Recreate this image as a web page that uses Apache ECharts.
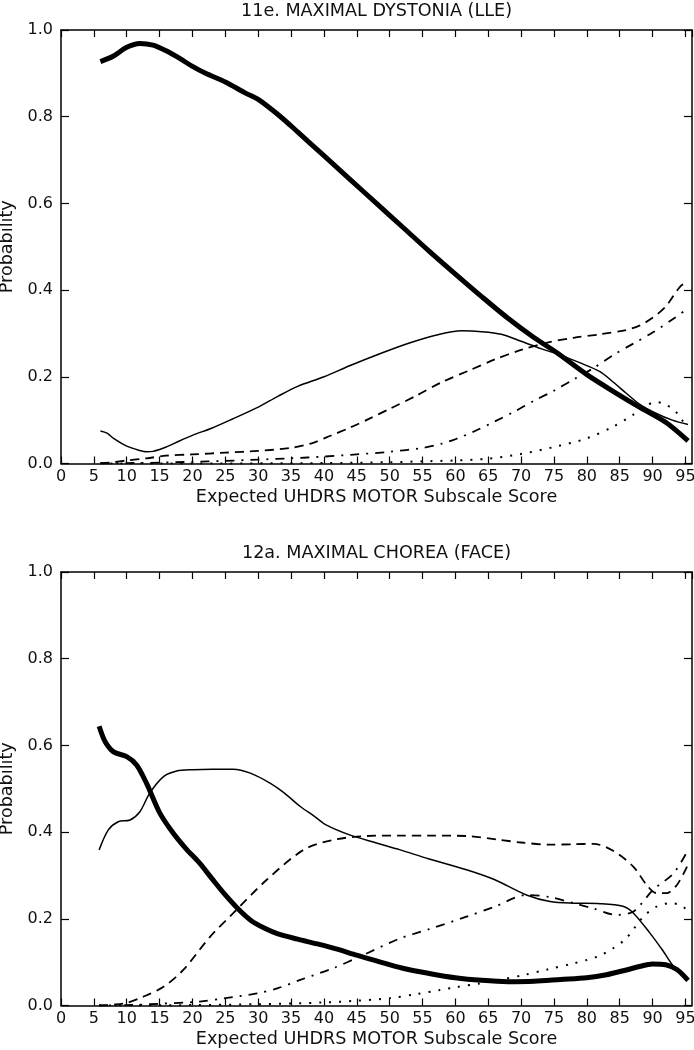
<!DOCTYPE html>
<html>
<head>
<meta charset="utf-8">
<script src="https://cdn.jsdelivr.net/npm/echarts@6/dist/echarts.min.js"></script>
<style>
html,body{margin:0;padding:0;background:#fff;}
#chart{width:694px;height:1050px;}
</style>
</head>
<body>
<div id="chart"></div>
<script>
// ---------- Titles / labels ----------
const titles = ['11e. MAXIMAL DYSTONIA (LLE)', '12a. MAXIMAL CHOREA (FACE)'];
const xAxisTitle = 'Expected UHDRS MOTOR Subscale Score';
const yAxisTitle = 'Probability';
const yTickLabels = ['0.0', '0.2', '0.4', '0.6', '0.8', '1.0'];
const xTickValues = [0,5,10,15,20,25,30,35,40,45,50,55,60,65,70,75,80,85,90,95];

// ---------- Panel 1: 11e. MAXIMAL DYSTONIA (LLE) ----------
const dyst0X = [6,8,10,12,14,16,18,20,22,25,28,30,33,36,40,44,48,52,56,60,64,68,72,75.4,80,84.5,88,92,95.4];
const dyst0Y = [0.927,0.94,0.96,0.969,0.965,0.952,0.935,0.916,0.90,0.88,0.855,0.84,0.805,0.765,0.71,0.655,0.60,0.545,0.49,0.437,0.385,0.335,0.29,0.256,0.205,0.162,0.13,0.095,0.052];

const dyst1X = [6,7,8,10,12,13,14,16,18,20,23,26,30,33,36,40,44,49,53,57,61,64,67,70,73,76,79,82,84,86,88,90.5,93,95.4];
const dyst1Y = [0.075,0.07,0.058,0.04,0.03,0.027,0.028,0.038,0.052,0.065,0.082,0.102,0.13,0.155,0.178,0.20,0.226,0.256,0.278,0.296,0.306,0.304,0.298,0.282,0.265,0.25,0.232,0.212,0.188,0.162,0.137,0.116,0.10,0.09];

const dyst2X = [6,8,10,13,16,20,25,30,35,38,41,44,47,50,54,58,62,66,70,74,78,82,86,88,90,92,94.2,95.4];
const dyst2Y = [0.001,0.003,0.007,0.012,0.018,0.021,0.025,0.029,0.036,0.046,0.064,0.083,0.104,0.126,0.156,0.188,0.214,0.24,0.262,0.279,0.29,0.298,0.308,0.318,0.336,0.362,0.408,0.42];

const dyst3X = [6,10,15,20,25,30,35,40,45,50,55,58,60,63,66,69,72,75,78,81,84,87,90,93,95.4];
const dyst3Y = [0,0.001,0.002,0.004,0.006,0.009,0.012,0.016,0.021,0.027,0.036,0.046,0.056,0.075,0.097,0.12,0.145,0.168,0.194,0.22,0.25,0.276,0.302,0.332,0.358];

const dyst4X = [6,20,40,50,55,60,65,70,75,80,84,87,89,90.5,92,93.5,94.5,95.4];
const dyst4Y = [0,0,0.001,0.003,0.005,0.007,0.011,0.022,0.038,0.058,0.085,0.112,0.133,0.142,0.136,0.12,0.1,0.082];

// ---------- Panel 2: 12a. MAXIMAL CHOREA (FACE) ----------
const chor0X = [5.8,6.7,8,10,11.5,13,15,17,19,21,23,25,27,29,31,33,36,39,42,45,48,52,56,60,64,68,72,76,80,83,86,88,90,92,93.7,95.4];
const chor0Y = [0.644,0.609,0.585,0.574,0.555,0.513,0.445,0.399,0.362,0.33,0.292,0.255,0.222,0.195,0.178,0.165,0.153,0.142,0.13,0.116,0.103,0.086,0.074,0.064,0.058,0.055,0.056,0.06,0.064,0.071,0.082,0.09,0.096,0.094,0.083,0.058];

const chor1X = [5.8,7.2,8.7,10.5,12,13.5,15.6,17.6,20,23,26.2,28.8,31.8,34,36.4,38.5,40.4,44,48,51.6,56,61.7,66,70.8,74.4,78,82,85.5,87.1,89.6,91.5,93.2,95.2];
const chor1Y = [0.359,0.405,0.424,0.428,0.447,0.49,0.528,0.541,0.544,0.545,0.545,0.536,0.513,0.49,0.459,0.437,0.416,0.393,0.375,0.359,0.338,0.313,0.29,0.255,0.24,0.236,0.235,0.229,0.213,0.167,0.128,0.09,0.063];

const chor2X = [5.8,8,10,12.5,15.6,18.6,22.7,26.2,31.3,36.9,41.4,46.5,51.6,56,61.7,66.8,70,74.4,78,81,84,87.1,89.1,90.6,92.1,93.7,95.4];
const chor2Y = [0,0.002,0.006,0.02,0.043,0.082,0.159,0.213,0.29,0.359,0.382,0.391,0.392,0.392,0.391,0.382,0.376,0.371,0.372,0.373,0.357,0.32,0.278,0.259,0.259,0.278,0.325];

const chor3X = [5.8,10,15,21.1,25,29.8,33,36.4,41.4,45.5,51.6,56,61.7,66,70.8,74.4,78,81,84.5,87.1,90.1,93.2,95.4];
const chor3Y = [0,0.001,0.004,0.009,0.017,0.028,0.04,0.059,0.086,0.113,0.155,0.176,0.205,0.228,0.255,0.25,0.236,0.224,0.209,0.217,0.267,0.305,0.359];

const chor4X = [5.8,20,30,40,45,50,54,57.7,60,63.7,67,70.3,74,77.9,80,82,84,86,88.6,90.6,92.6,94.2,95.4];
const chor4Y = [0,0.001,0.003,0.007,0.011,0.017,0.026,0.036,0.042,0.051,0.06,0.07,0.083,0.097,0.105,0.115,0.132,0.155,0.205,0.228,0.236,0.232,0.218];

// ---------- Build ----------
const FONT = 'DejaVu Sans';
const pair = (xs, ys) => xs.map((x, i) => [x, ys[i]]);
const panels = [
  [pair(dyst0X,dyst0Y), pair(dyst1X,dyst1Y), pair(dyst2X,dyst2Y), pair(dyst3X,dyst3Y), pair(dyst4X,dyst4Y)],
  [pair(chor0X,chor0Y), pair(chor1X,chor1Y), pair(chor2X,chor2Y), pair(chor3X,chor3Y), pair(chor4X,chor4Y)]
];
const lineStyles = [
  {width: 5, type: 'solid'},
  {width: 1.5, type: 'solid'},
  {width: 1.8, type: [9, 6]},
  {width: 1.8, type: [9, 7, 2, 7]},
  {width: 2, type: [2, 8]}
];

const grids = [
  {left: 61, top: 30, width: 631, height: 433.5, containLabel: false, outerBoundsMode: 'none'},
  {left: 61, top: 572, width: 631, height: 433.5, containLabel: false, outerBoundsMode: 'none'}
];
const axisLineStyle = {color: '#000', width: 1.5};
const xAxes = [], yAxes = [], series = [];
grids.forEach((g, gi) => {
  xAxes.push({
    gridIndex: gi, type: 'value', position: 'bottom', min: 0, max: 96, interval: 5,
    name: xAxisTitle, nameLocation: 'middle', nameGap: 25,
    nameTextStyle: {fontFamily: FONT, fontSize: 17.6, color: '#111'},
    axisLine: {show: true, onZero: false, lineStyle: axisLineStyle},
    axisTick: {show: true, inside: true, length: 7, lineStyle: {color: '#000', width: 1.2}},
    axisLabel: {show: true, margin: 5, fontFamily: FONT, fontSize: 16, color: '#111', showMaxLabel: false,
      formatter: v => (xTickValues.indexOf(v) >= 0 ? String(v) : '')},
    splitLine: {show: false}
  });
  xAxes.push({
    gridIndex: gi, type: 'value', position: 'top', min: 0, max: 96, interval: 5,
    name: titles[gi], nameLocation: 'middle', nameGap: 10,
    nameTextStyle: {fontFamily: FONT, fontSize: 17.6, color: '#111'},
    axisLine: {show: true, onZero: false, lineStyle: axisLineStyle},
    axisTick: {show: true, inside: true, length: 7, lineStyle: {color: '#000', width: 1.2}},
    axisLabel: {show: false},
    splitLine: {show: false}
  });
  yAxes.push({
    gridIndex: gi, type: 'value', position: 'left', min: 0, max: 1, interval: 0.2,
    name: yAxisTitle, nameLocation: 'middle', nameGap: 39, nameRotate: 90,
    nameTextStyle: {fontFamily: FONT, fontSize: 17.6, color: '#111'},
    axisLine: {show: true, onZero: false, lineStyle: axisLineStyle},
    axisTick: {show: true, inside: true, length: 8, lineStyle: {color: '#000', width: 1.2}},
    axisLabel: {show: true, margin: 8, fontFamily: FONT, fontSize: 16, color: '#111',
      formatter: v => yTickLabels[Math.round(v / 0.2)]},
    splitLine: {show: false}
  });
  yAxes.push({
    gridIndex: gi, type: 'value', position: 'right', min: 0, max: 1, interval: 0.2,
    axisLine: {show: true, onZero: false, lineStyle: axisLineStyle},
    axisTick: {show: true, inside: true, length: 8, lineStyle: {color: '#000', width: 1.2}},
    axisLabel: {show: false},
    splitLine: {show: false}
  });
  panels[gi].forEach((data, si) => {
    series.push({
      type: 'line', xAxisIndex: gi * 2, yAxisIndex: gi * 2, data: data,
      smooth: 0.3, symbol: 'none', clip: true, animation: false,
      lineStyle: Object.assign({color: '#000', cap: 'butt', join: 'round'}, lineStyles[si]),
      z: 10 - si
    });
  });
});

const chart = echarts.init(document.getElementById('chart'), null, {renderer: 'canvas'});
chart.setOption({
  backgroundColor: '#fff',
  animation: false,
  grid: grids,
  xAxis: xAxes,
  yAxis: yAxes,
  series: series
});
</script>
</body>
</html>
